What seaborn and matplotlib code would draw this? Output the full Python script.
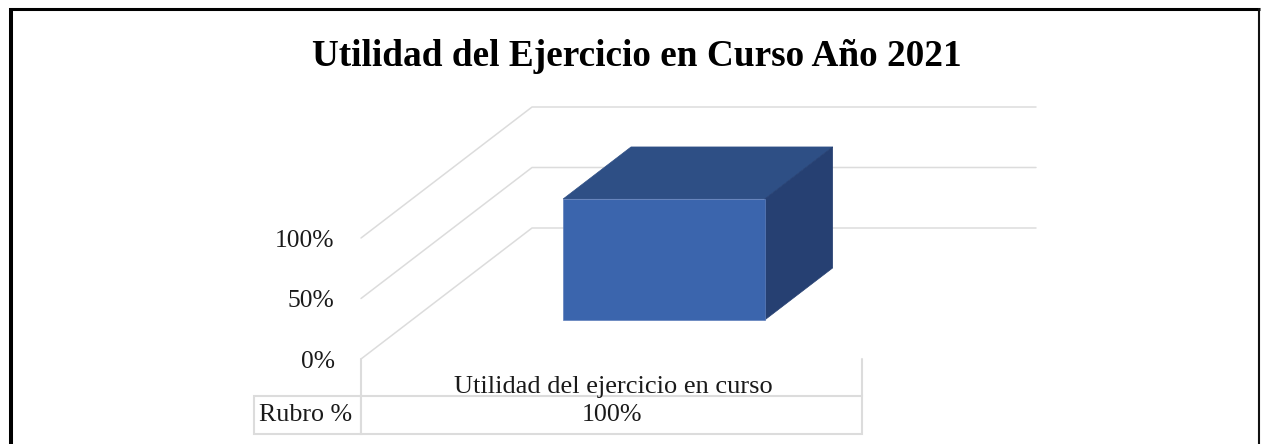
import matplotlib
matplotlib.use("Agg")
import matplotlib.pyplot as plt
from matplotlib.lines import Line2D
from matplotlib.patches import Polygon
import pandas as pd
import seaborn as sns

## Data
categories = ["Utilidad del ejercicio en curso"]
values = [100]
table_values = ["100%"]
row_label = "Rubro %"
y_ticks = [0, 50, 100]
y_tick_labels = ["0%", "50%", "100%"]
title = "Utilidad del Ejercicio en Curso Año 2021"

df = pd.DataFrame({"rubro": categories, "valor": values})

W, H = 1262, 444
GRID = "#dcdcdc"
TEXT = "#1a1a1a"

sns.set_theme(style="white")
plt.rcParams["font.family"] = ["Liberation Serif", "DejaVu Serif"]

fig = plt.figure(figsize=(W / 100, H / 100), dpi=100, facecolor="white")

### axes = front plane of the fake 3D box
left, right, y0, top = 361, 865, 359, 100
px_per_unit = 1.21
ax = fig.add_axes([left / W, 1 - y0 / H, (right - left) / W, (y0 - top) / H])
ax.patch.set_alpha(0)

sns.barplot(data=df, x="rubro", y="valor", width=0.4, color="#3b65ad", saturation=1, ax=ax)
ax.set_xlim(-0.5, 0.5)
ax.set_ylim(0, (y0 - top) / px_per_unit)

# oblique projection, depth goes 0 to 1
depth_x = 171 / (right - left)
depth_y = 131 / px_per_unit


def project(x, y, d):
    return x + d * depth_x, y + d * depth_y


### walls and gridlines
for v in y_ticks:
    pts = [project(-0.5, v, 0), project(-0.5, v, 1), project(0.5, v, 1)]
    ax.plot([p[0] for p in pts], [p[1] for p in pts], color=GRID, lw=1.1, zorder=1, clip_on=False)

### box
front_d, back_d = 0.298, 0.695
bar = ax.patches[0]
x1, w, h = bar.get_x(), bar.get_width(), bar.get_height()
x2 = x1 + w
top_face = [project(x1, h, front_d), project(x2, h, front_d), project(x2, h, back_d), project(x1, h, back_d)]
side_face = [project(x2, 0, front_d), project(x2, h, front_d), project(x2, h, back_d), project(x2, 0, back_d)]
ax.add_patch(Polygon(top_face, closed=True, fc="#2e4f85", ec="#2e4f85", lw=0.5, zorder=3, clip_on=False))
ax.add_patch(Polygon(side_face, closed=True, fc="#264072", ec="#264072", lw=0.5, zorder=3, clip_on=False))
fx, fy = project(x1, 0, front_d)
bar.set_x(fx)
bar.set_y(fy)
bar.set_zorder(4)
bar.set_clip_on(False)
bar.set_edgecolor("#5f7fbc")
bar.set_linewidth(0.5)

### axis text
ax.set_xlabel("")
ax.set_ylabel("")
ax.set_yticks(y_ticks, y_tick_labels)
ax.tick_params(axis="y", length=0, pad=19, labelsize=18.4, labelcolor=TEXT)
ax.tick_params(axis="x", length=0, pad=12, labelsize=19, labelcolor=TEXT)
sns.despine(ax=ax, left=True, bottom=True)

### data table under the axis
hgt = y0 - top
to_x = lambda px: (px - left) / (right - left)
to_y = lambda py: (y0 - py) / hgt
# row label kept as a normal first column, rowLabels forces its own width
tab = ax.table(cellText=[[row_label] + table_values], cellLoc="center",
               colWidths=[to_x(361) - to_x(254), to_x(862) - to_x(361)],
               bbox=[to_x(254), to_y(434), to_x(862) - to_x(254), to_y(396) - to_y(434)])
tab.auto_set_font_size(False)
for key, cell in tab.get_celld().items():
    cell.set_edgecolor(GRID)
    cell.set_linewidth(1.5)
    cell.set_text_props(fontsize=18.7, color=TEXT)
    if key[1] == 0:
        cell.get_text().set_ha("left")
        cell._loc = "left"
        cell.PAD = 0.045
ax.plot([0, 0], [to_y(396), 0], transform=ax.transAxes, color=GRID, lw=1.5, clip_on=False)
ax.plot([to_x(862), to_x(862)], [to_y(396), 0], transform=ax.transAxes, color=GRID, lw=1.5, clip_on=False)

fig.text(637 / W, 1 - 57 / H, title, ha="center", va="center", fontsize=26.8, fontweight="bold", color="black")

### page frame, no bottom edge
fig.add_artist(Line2D([11 / W, 11 / W], [0, 1 - 8 / H], color="black", lw=2.9, solid_capstyle="butt"))
fig.add_artist(Line2D([9 / W, 1260 / W], [1 - 9 / H, 1 - 9 / H], color="black", lw=2.2, solid_capstyle="butt"))
fig.add_artist(Line2D([1259 / W, 1259 / W], [0, 1 - 8 / H], color="#111111", lw=1.5, solid_capstyle="butt"))

fig.savefig("out.png", dpi=100, facecolor="white")
